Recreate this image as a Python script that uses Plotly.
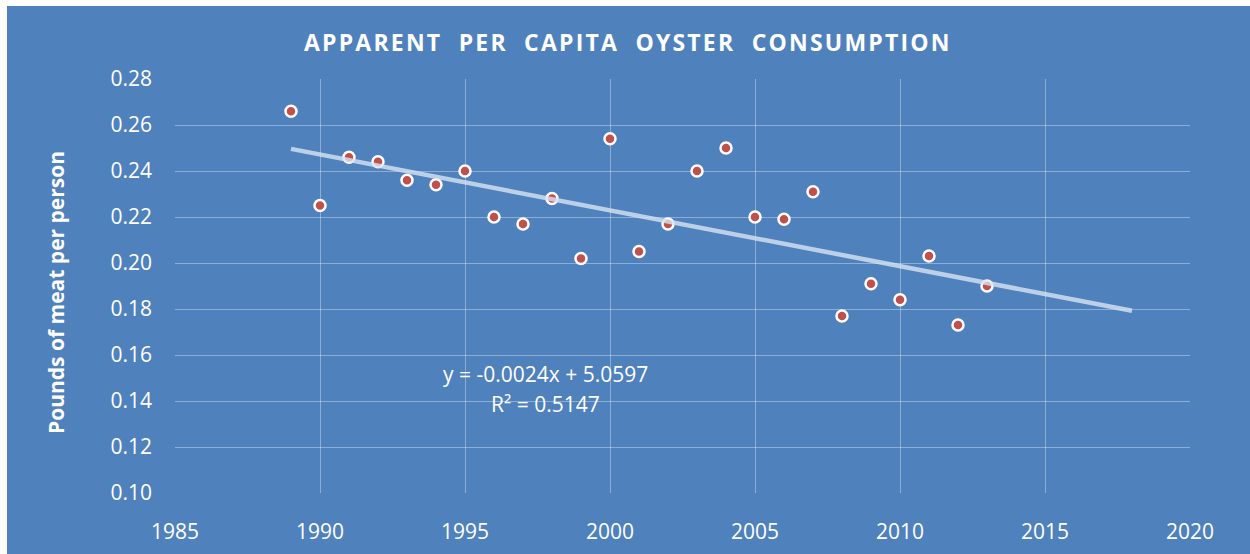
import numpy as np
import plotly.graph_objects as go

years = [1989, 1990, 1991, 1992, 1993, 1994, 1995, 1996, 1997, 1998, 1999, 2000,
         2001, 2002, 2003, 2004, 2005, 2006, 2007, 2008, 2009, 2010, 2011, 2012, 2013]
consumption = [0.266, 0.225, 0.246, 0.244, 0.236, 0.234, 0.240, 0.220, 0.217, 0.228,
               0.202, 0.254, 0.205, 0.217, 0.240, 0.250, 0.220, 0.219, 0.231, 0.177,
               0.191, 0.184, 0.203, 0.173, 0.190]
trend_end_year = 2018
equation_text = "y = -0.0024x + 5.0597"
r2_text = "R² = 0.5147"
title_text = "APPARENT  PER  CAPITA  OYSTER  CONSUMPTION"
y_title = "Pounds of meat per person"
x_ticks = [1985, 1990, 1995, 2000, 2005, 2010, 2015, 2020]
y_ticks = [0.10, 0.12, 0.14, 0.16, 0.18, 0.20, 0.22, 0.24, 0.26, 0.28]

BG = "#4F81BD"
GRID = "rgba(255,255,255,0.35)"
FONT = "Open Sans"

slope, intercept = np.polyfit(years, consumption, 1)
trend_x = [years[0], trend_end_year]
trend_y = [slope * x + intercept for x in trend_x]

fig = go.Figure()
fig.add_trace(go.Scatter(
    x=years, y=consumption, mode="markers",
    marker=dict(size=11, color="#C0504D", line=dict(color="white", width=2.5)),
    hoverinfo="x+y", showlegend=False,
))
fig.add_trace(go.Scatter(
    x=trend_x, y=trend_y, mode="lines",
    line=dict(color="rgba(215,227,242,0.8)", width=4.5),
    hoverinfo="skip", showlegend=False,
))

# white page margin around the chart: 6px on top, 7px on the left;
# the figure overshoots the window on the right/bottom (clipped) so blue reaches the edges
OFF_X, OFF_Y = 7, 6
EXTRA = 20
W, H = 1250 - OFF_X + EXTRA, 554 - OFF_Y + EXTRA
L, T = 175 - OFF_X, 79 - OFF_Y
R, B = 60 + EXTRA, 61 + EXTRA
pw, ph = W - L - R, H - T - B


def px_x(px):
    return (px - OFF_X - L) / pw


def px_y(py):
    return (H - B - (py - OFF_Y)) / ph


def note(px, py, text, size, bold=False, angle=0):
    font = dict(family=FONT, size=size, color="white")
    if bold:
        font["weight"] = "bold"
    fig.add_annotation(x=px_x(px), y=px_y(py), xref="paper", yref="paper", text=text,
                       showarrow=False, xanchor="center", yanchor="middle",
                       textangle=angle, font=font)


note(545, 374, equation_text, 21)
note(545, 404, r2_text, 21)
note(628, 42, '<span style="letter-spacing:2.2px">' + title_text + '</span>', 23, bold=True)
note(56, 293, y_title, 21, bold=True, angle=-90)

fig.update_layout(
    width=W, height=H,
    margin=dict(l=L, r=R, t=T, b=B, pad=0, autoexpand=False),
    paper_bgcolor=BG, plot_bgcolor=BG,
    font=dict(family=FONT, color="white"),
    xaxis=dict(range=[1985, 2020], tickvals=x_ticks, showgrid=True, gridcolor=GRID,
               gridwidth=1, zeroline=False, showline=True, linecolor=BG, linewidth=2,
               ticks="", ticklabelstandoff=19, automargin=False,
               tickfont=dict(family=FONT, size=21, color="white")),
    yaxis=dict(range=[0.10, 0.28], tickvals=y_ticks, tickformat=".2f", showgrid=True,
               gridcolor=GRID, gridwidth=1, zeroline=False, showline=False, ticks="",
               ticklabelstandoff=22, automargin=False,
               tickfont=dict(family=FONT, size=21, color="white")),
)

fig.write_html(
    "out.html",
    post_script="document.body.style.margin='%dpx 0 0 %dpx';"
                "document.body.style.overflow='hidden';" % (OFF_Y, OFF_X),
)
